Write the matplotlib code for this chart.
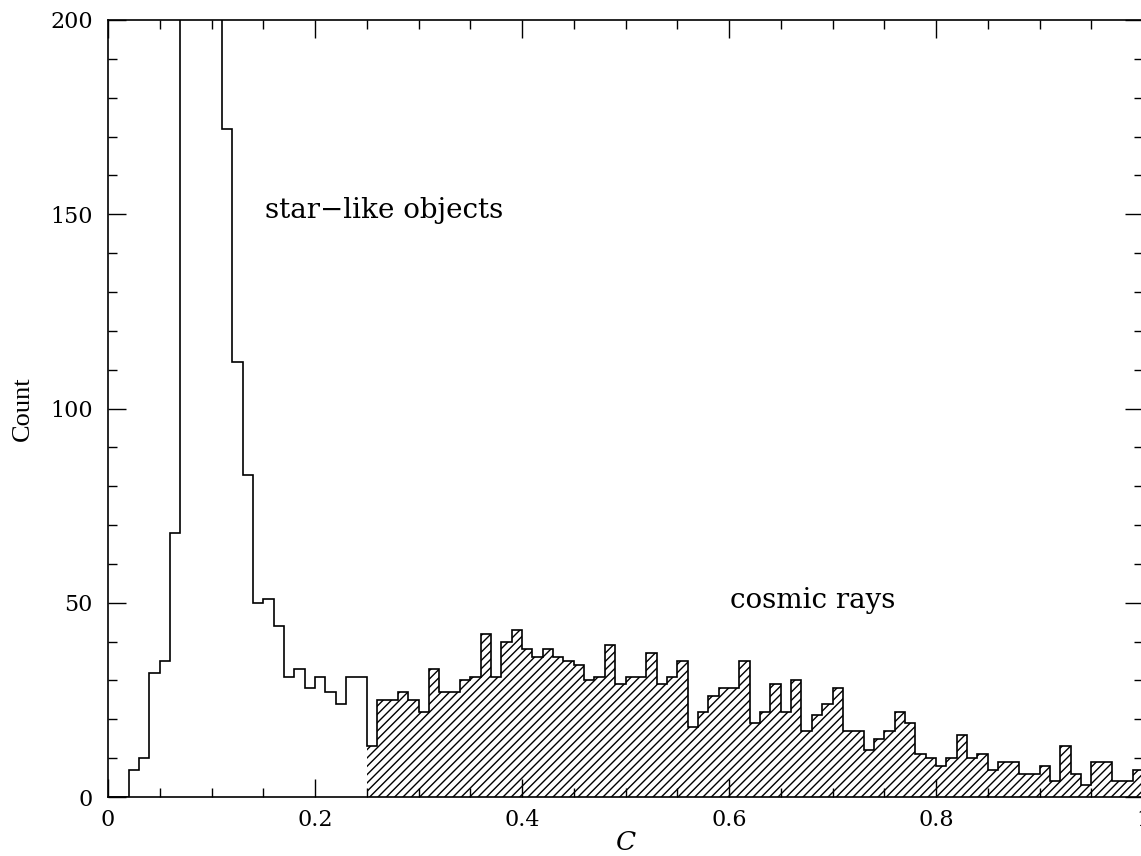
import numpy as np
import matplotlib
matplotlib.use('Agg')
import matplotlib.pyplot as plt
from matplotlib.ticker import MultipleLocator, FuncFormatter

plt.rcParams['font.family'] = 'DejaVu Serif'
plt.rcParams['mathtext.fontset'] = 'dejavuserif'
plt.rcParams['hatch.linewidth'] = 1.0

# histogram of C, bins of width 0.01 from 0 to 1
bin_edges = np.round(np.arange(101) * 0.01, 2)
counts = [0, 0, 7, 10, 32, 35, 68, 290, 420, 380,
          260, 172, 112, 83, 50, 51, 44, 31, 33, 28,
          31, 27, 24, 31, 31, 13, 25, 25, 27, 25,
          22, 33, 27, 27, 30, 31, 42, 31, 40, 43,
          38, 36, 38, 36, 35, 34, 30, 31, 39, 29,
          31, 31, 37, 29, 31, 35, 18, 22, 26, 28,
          28, 35, 19, 22, 29, 22, 30, 17, 21, 24,
          28, 17, 17, 12, 15, 17, 22, 19, 11, 10,
          8, 10, 16, 10, 11, 7, 9, 9, 6, 6,
          8, 4, 13, 6, 3, 9, 9, 4, 4, 7]
cosmic_start = 25  # bins from C = 0.25 on are cosmic rays (hatched)

fig = plt.figure(figsize=(11.41, 8.56), dpi=100)
ax = fig.add_axes([108/1141, 59/856, 1035/1141, 777/856])

c = np.array(counts)
ax.stairs(c[cosmic_start:], bin_edges[cosmic_start:], fill=True,
          facecolor='none', edgecolor='black', hatch='////', linewidth=0)
ax.stairs(c, bin_edges, color='black', linewidth=1.2)

ax.set_xlim(0, 1)
ax.set_ylim(0, 200)

ax.xaxis.set_major_locator(MultipleLocator(0.2))
ax.xaxis.set_minor_locator(MultipleLocator(0.05))
ax.yaxis.set_major_locator(MultipleLocator(50))
ax.yaxis.set_minor_locator(MultipleLocator(10))
ax.xaxis.set_major_formatter(FuncFormatter(lambda v, p: '%g' % round(v, 2)))
ax.tick_params(which='both', direction='in', top=True, right=True,
               width=1.0, labelsize=16)
ax.tick_params(which='major', length=13)
ax.tick_params(which='minor', length=6.5)
ax.tick_params(axis='x', pad=9)
ax.tick_params(axis='y', pad=11)
for s in ax.spines.values():
    s.set_linewidth(1.2)

ax.set_xlabel('$C$', fontsize=19, labelpad=-1)
ax.set_ylabel('Count', fontsize=19, family='Liberation Serif', labelpad=12)

ax.text(0.152, 151, 'star\u2212like objects', fontsize=20, va='center', ha='left')
ax.text(0.601, 50.5, 'cosmic rays', fontsize=20, va='center', ha='left')

fig.savefig('out.png', dpi=100)
